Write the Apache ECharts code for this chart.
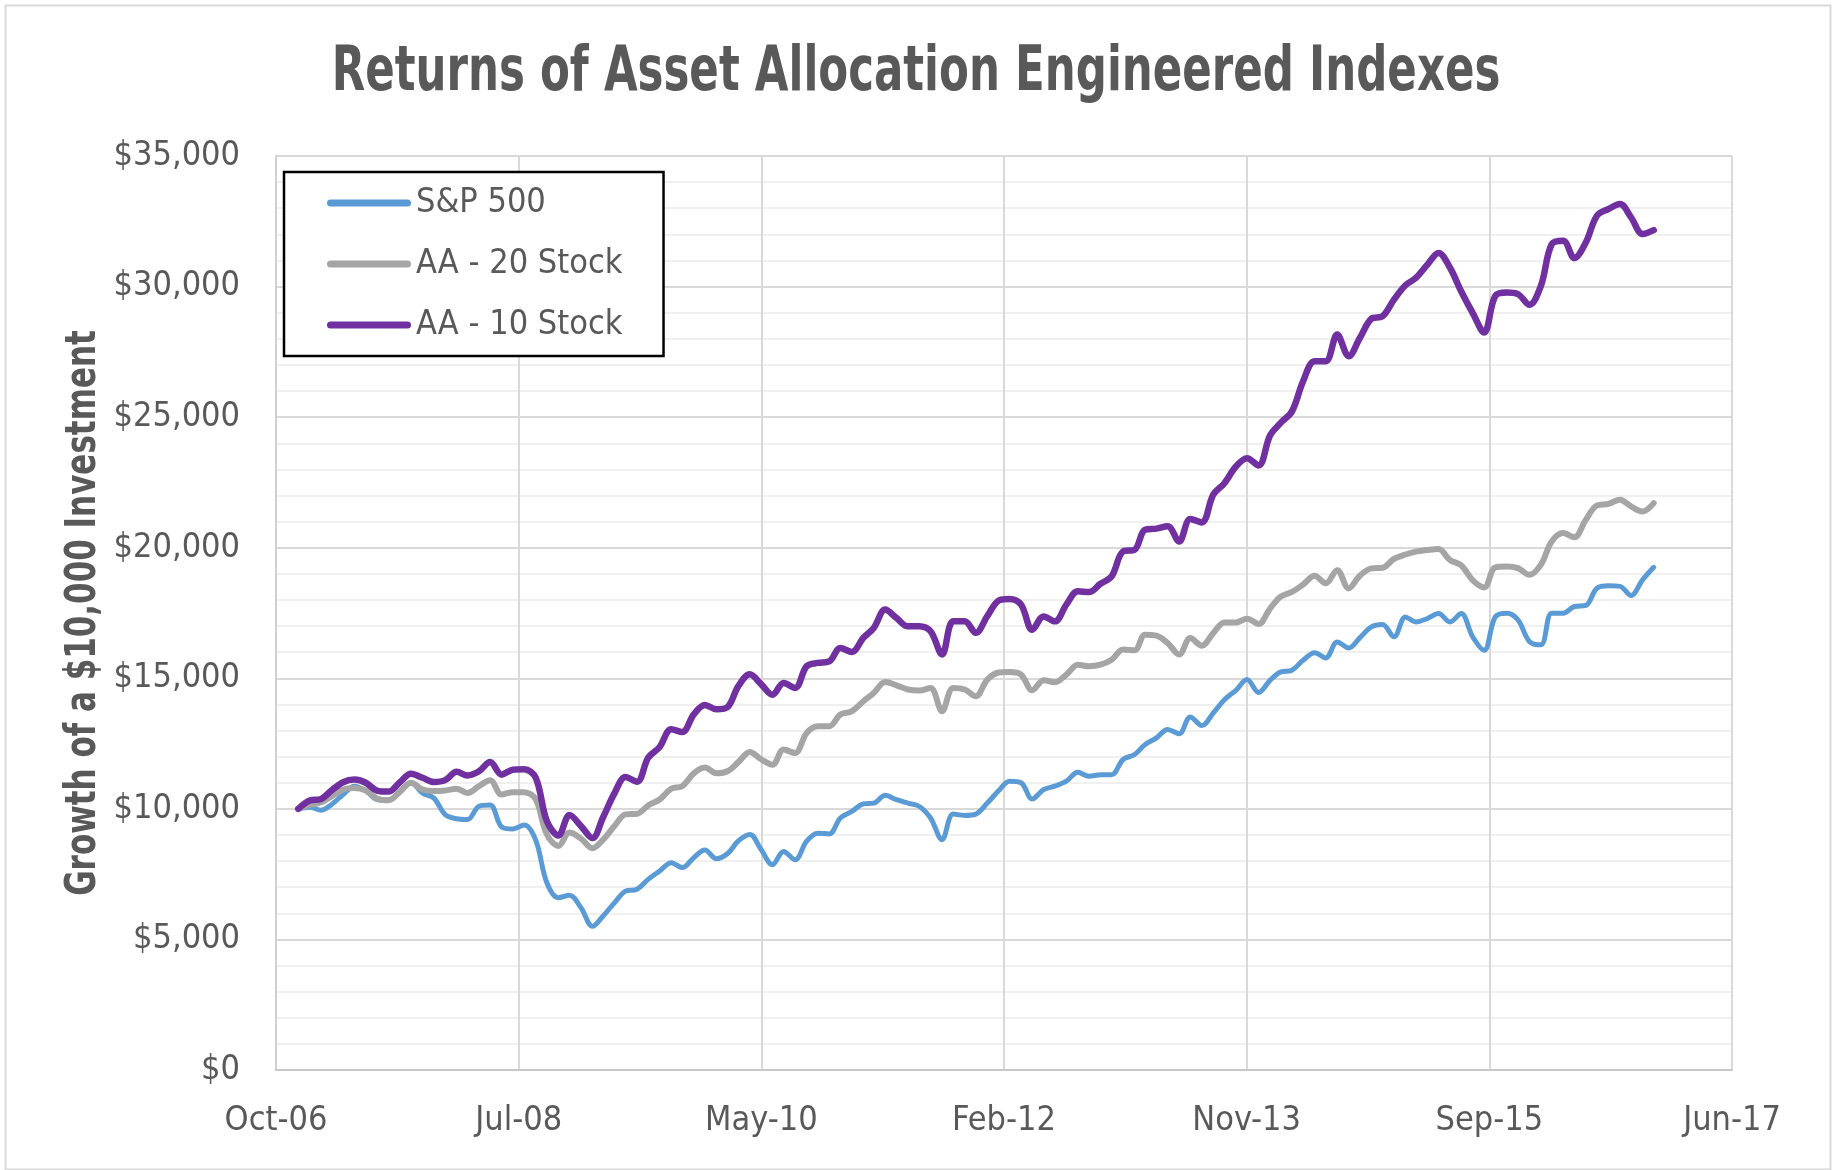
<!DOCTYPE html>
<html>
<head>
<meta charset="utf-8">
<script src="https://cdn.jsdelivr.net/npm/echarts@6/dist/echarts.min.js"></script>
<style>
html,body{margin:0;padding:0;background:#fff;}
#chart{width:1832px;height:1170px;}
</style>
</head>
<body>
<div id="chart"></div>
<script>
// Month of each observation (values are month-end)
const months = [
  '2006-11','2006-12',
  '2007-01','2007-02','2007-03','2007-04','2007-05','2007-06','2007-07','2007-08','2007-09','2007-10','2007-11','2007-12',
  '2008-01','2008-02','2008-03','2008-04','2008-05','2008-06','2008-07','2008-08','2008-09','2008-10','2008-11','2008-12',
  '2009-01','2009-02','2009-03','2009-04','2009-05','2009-06','2009-07','2009-08','2009-09','2009-10','2009-11','2009-12',
  '2010-01','2010-02','2010-03','2010-04','2010-05','2010-06','2010-07','2010-08','2010-09','2010-10','2010-11','2010-12',
  '2011-01','2011-02','2011-03','2011-04','2011-05','2011-06','2011-07','2011-08','2011-09','2011-10','2011-11','2011-12',
  '2012-01','2012-02','2012-03','2012-04','2012-05','2012-06','2012-07','2012-08','2012-09','2012-10','2012-11','2012-12',
  '2013-01','2013-02','2013-03','2013-04','2013-05','2013-06','2013-07','2013-08','2013-09','2013-10','2013-11','2013-12',
  '2014-01','2014-02','2014-03','2014-04','2014-05','2014-06','2014-07','2014-08','2014-09','2014-10','2014-11','2014-12',
  '2015-01','2015-02','2015-03','2015-04','2015-05','2015-06','2015-07','2015-08','2015-09','2015-10','2015-11','2015-12',
  '2016-01','2016-02','2016-03','2016-04','2016-05','2016-06','2016-07','2016-08','2016-09','2016-10','2016-11'
];

const sp500 = [
  10000,10060,
  9950,10170,10550,10870,10700,10360,10330,10670,11000,10600,10420,9780,
  9620,9590,10100,10150,9310,9230,9380,8800,7170,6600,6690,6210,
  5500,5890,6400,6850,6920,7300,7620,7940,7750,8130,8420,8090,
  8300,8770,9020,8450,7860,8370,8050,8760,9070,9040,9650,9900,
  10190,10220,10520,10350,10220,10100,9650,8820,9800,9750,9800,10220,
  10700,11060,11000,10380,10740,10870,11060,11400,11250,11310,11310,11890,
  12080,12460,12720,13040,12880,13520,13190,13670,14180,14540,14950,14460,
  14920,15240,15310,15690,15980,15780,16390,16160,16550,16970,17060,16590,
  17350,17160,17290,17480,17160,17480,16590,16070,17350,17490,17240,16410,
  16280,17490,17490,17750,17790,18450,18540,18520,18170,18770,19250
];

const aa20 = [
  10000,10150,
  10250,10480,10740,10800,10700,10400,10330,10650,11000,10740,10680,10700,
  10770,10610,10870,11100,10550,10640,10640,10360,9020,8580,9090,8860,
  8490,8810,9340,9790,9810,10130,10360,10770,10870,11360,11580,11360,
  11450,11790,12180,11900,11690,12270,12140,12900,13160,13160,13610,13740,
  14120,14440,14860,14730,14570,14530,14630,13740,14630,14570,14310,14950,
  15220,15240,15140,14540,14920,14850,15140,15520,15460,15520,15710,16100,
  16070,16670,16630,16350,15910,16540,16250,16730,17140,17140,17280,17080,
  17670,18120,18310,18590,18930,18640,19140,18440,18930,19210,19230,19570,
  19740,19850,19910,19950,19530,19330,18760,18480,19250,19280,19220,18960,
  19350,20240,20560,20400,21070,21620,21680,21840,21580,21390,21710
];

const aa10 = [
  10000,10320,
  10380,10710,11020,11120,11000,10700,10660,11020,11340,11190,11030,11100,
  11420,11280,11440,11790,11310,11500,11520,11190,9530,8980,9760,9340,
  8880,9660,10590,11220,11040,11960,12370,13050,12940,13620,13980,13810,
  13910,14700,15150,14780,14370,14820,14630,15460,15590,15650,16160,16010,
  16550,16930,17630,17310,16990,16990,16800,15910,17180,17180,16740,17380,
  17980,18040,17820,16860,17370,17180,17820,18330,18300,18620,18900,19860,
  19920,20690,20730,20820,20240,21100,20970,22030,22470,23110,23430,23150,
  24300,24770,25220,26370,27140,27140,28160,27330,28030,28770,28860,29500,
  30050,30330,30840,31290,30720,29820,28990,28240,29640,29770,29710,29300,
  30030,31620,31750,31090,31690,32710,32970,33160,32650,32010,32160
];

const xTickLabels = ['Oct-06','Jul-08','May-10','Feb-12','Nov-13','Sep-15','Jun-17'];
const seriesNames = ['S&P 500','AA - 20 Stock','AA - 10 Stock'];
const titleText = 'Returns of Asset Allocation Engineered Indexes';
const yAxisTitle = 'Growth of a $10,000 Investment';

// Axis origin: 1 Oct 2006; Excel-style date axis with a 654-day major unit
const originMs = Date.UTC(2006, 9, 1);
const dayMs = 86400000;
const xStep = 654;
function monthEndDay(m) {
  const p = m.split('-');
  const y = +p[0], mo = +p[1];
  return Math.round((Date.UTC(y, mo, 0) - originMs) / dayMs);
}
const xDays = months.map(monthEndDay);
function pairs(vals) { return vals.map((v, i) => [xDays[i], v]); }

const FONT = "'Liberation Sans Narrow', 'Arial Narrow', 'DejaVu Sans Condensed', sans-serif";
const TXT = '#595959';
const LBL = 34;
const legendIcon = 'path://M3.5,0 H80.5 A3.5,3.5 0 0 1 80.5,7 H3.5 A3.5,3.5 0 0 1 3.5,0 Z';

const chart = echarts.init(document.getElementById('chart'), null, {renderer: 'canvas'});
chart.setOption({
  animation: false,
  backgroundColor: '#ffffff',
  graphic: [
    {
      type: 'rect', left: 3, top: 3, z: -10,
      shape: {width: 1825, height: 1164},
      style: {fill: 'none', stroke: '#D9D9D9', lineWidth: 2}
    },
    {
      type: 'text', x: 916, y: 74, scaleX: 0.78, z: 10,
      style: {
        text: titleText, fill: TXT, align: 'center', verticalAlign: 'middle',
        font: "bold 62px 'DejaVu Sans Condensed', sans-serif"
      }
    },
    {
      type: 'text', x: 84, y: 613, rotation: Math.PI / 2, scaleX: 0.82, z: 10,
      style: {
        text: yAxisTitle, fill: TXT, align: 'center', verticalAlign: 'middle',
        font: "bold 42px 'DejaVu Sans Condensed', sans-serif"
      }
    }
  ],
  legend: {
    orient: 'vertical', left: 284, top: 172,
    data: seriesNames.map(n => ({name: n, icon: legendIcon})),
    itemWidth: 84, itemHeight: 7, itemGap: 15,
    padding: [8, 41, 8, 43],
    borderColor: '#000', borderWidth: 2.5, backgroundColor: '#fff',
    textStyle: {fontFamily: FONT, fontSize: LBL, color: TXT, lineHeight: 46}
  },
  grid: {left: 276, right: 100, top: 156, bottom: 100, containLabel: false},
  xAxis: {
    type: 'value', min: 0, max: xStep * 6, interval: xStep,
    axisLine: {show: true, lineStyle: {color: '#C8C8C8', width: 2}},
    axisTick: {show: false},
    splitLine: {show: true, lineStyle: {color: '#D9D9D9', width: 2}},
    axisLabel: {
      margin: 34, fontFamily: FONT, fontSize: LBL, color: TXT,
      showMinLabel: true, showMaxLabel: true,
      formatter: v => xTickLabels[Math.round(v / xStep)] || ''
    }
  },
  yAxis: {
    type: 'value', min: 0, max: 35000, interval: 5000,
    axisLine: {show: true, lineStyle: {color: '#D0D0D0', width: 2}},
    axisTick: {show: false},
    minorTick: {show: false, splitNumber: 5},
    minorSplitLine: {show: true, lineStyle: {color: '#F0F0F0', width: 2}},
    splitLine: {show: true, lineStyle: {color: '#D9D9D9', width: 2}},
    axisLabel: {
      margin: 36, fontFamily: FONT, fontSize: LBL, color: TXT,
      formatter: v => '$' + v.toLocaleString('en-US')
    }
  },
  series: [
    {name: seriesNames[0], type: 'line', data: pairs(sp500), smooth: 0.35, symbol: 'none',
     color: '#5B9BD5', lineStyle: {width: 5, color: '#5B9BD5', cap: 'round', join: 'round'}},
    {name: seriesNames[1], type: 'line', data: pairs(aa20), smooth: 0.35, symbol: 'none',
     color: '#A5A5A5', lineStyle: {width: 6, color: '#A5A5A5', cap: 'round', join: 'round'}},
    {name: seriesNames[2], type: 'line', data: pairs(aa10), smooth: 0.35, symbol: 'none',
     color: '#7030A0', lineStyle: {width: 6.5, color: '#7030A0', cap: 'round', join: 'round'}}
  ]
});
</script>
</body>
</html>
